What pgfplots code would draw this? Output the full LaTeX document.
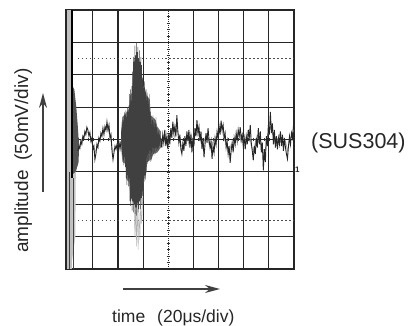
\documentclass[border=0pt]{standalone}
\usepackage{pgfplots}
\pgfplotsset{compat=1.18}
\usepackage{fontspec}
\setmainfont{Liberation Sans}
\usetikzlibrary{arrows.meta}

\begin{document}
\begin{tikzpicture}
\useasboundingbox (0,0) rectangle (419bp,326bp);
\begin{axis}[
  at={(66bp,57bp)}, anchor=south west,
  scale only axis, width=228bp, height=259bp,
  xmin=-4.07, xmax=5, ymin=-4, ymax=4,
  xtick={-3,-2,-1,1,2,3,4}, ytick={-3,-2,-1,0,1,2,3},
  xticklabels={}, yticklabels={}, major tick length=0pt,
  grid=major, major grid style={black!85, line width=1.1pt},
  axis line style={black!85, line width=1.1pt},
  clip=true,
]
% oscilloscope marker lines
\draw[black!70, line width=0.9pt, dash pattern=on 1.5pt off 2.5pt] (axis cs:-3.6,2.5) -- (axis cs:5,2.5);
\draw[black!70, line width=0.9pt, dash pattern=on 1.5pt off 2.5pt] (axis cs:-3.6,-2.5) -- (axis cs:5,-2.5);
\draw[black!85, line width=1pt, densely dotted] (axis cs:0,-4) -- (axis cs:0,4);
\pgfplotsinvokeforeach{-3.8,-3.6,...,3.9}{\draw[black!80, line width=0.6pt] (axis cs:-0.07,#1) -- (axis cs:0.07,#1);}
\pgfplotsinvokeforeach{-3.8,-3.6,...,4.9}{\draw[black!80, line width=0.6pt] (axis cs:#1,-0.06) -- (axis cs:#1,0.06);}

% left edge: start of trace
\addplot[fill=gray!50, draw=none] coordinates {(-4.02,-4)(-4.02,4)(-3.84,4)(-3.84,-4)};
\addplot[fill=black!68, draw=none] coordinates {(-3.84,1.7)(-3.74,1.55)(-3.66,1.0)(-3.6,0.4)(-3.55,-0.2)(-3.57,-0.7)(-3.68,-1.0)(-3.78,-1.15)(-3.84,-1.1)};
\addplot[fill=gray!45, draw=none] coordinates {(-3.84,-1.1)(-3.68,-1.0)(-3.7,-3.0)(-3.84,-3.8)};
\addplot[black, line width=1.8pt] coordinates {(-3.83,4)(-3.83,-1.2)};
\addplot[black!75, line width=0.7pt] coordinates {(-3.78,-1.2)(-3.78,-4)};
\addplot[black!75, line width=0.6pt] coordinates {(-3.93,-1.0)(-3.93,-4)};

% burst envelope
\addplot[fill=black!55, draw=none] coordinates {
(-1.88,0.25) (-1.82,0.7) (-1.7,0.8) (-1.56,0.95) (-1.52,1.35) (-1.44,1.45) (-1.4,2.2) (-1.34,2.5) (-1.28,2.6) (-1.22,2.45) (-1.14,2.4) (-1.06,2.1) (-1.0,1.65) (-0.92,1.55) (-0.86,1.35) (-0.74,1.25) (-0.7,0.75) (-0.5,0.6) (-0.44,0.4) (-0.3,0.25)
(-0.3,-0.25) (-0.44,-0.4) (-0.6,-0.45) (-0.66,-0.6) (-0.84,-0.7) (-0.88,-1.05) (-0.98,-1.15) (-1.0,-1.7) (-1.14,-1.9) (-1.24,-2.0) (-1.38,-1.95) (-1.5,-1.8) (-1.56,-1.3) (-1.66,-1.25) (-1.7,-0.75) (-1.82,-0.7) (-1.88,-0.25)};
% light grey excursions below the burst
\addplot[gray!60, line width=0.5pt] coordinates {(-1.36,-1.5)(-1.33,-3.0)(-1.30,-2.0)(-1.27,-3.3)(-1.24,-2.0)(-1.20,-3.4)(-1.17,-2.2)(-1.13,-3.1)(-1.10,-2.0)(-1.06,-2.6)(-1.02,-1.8)};

% grey secondary trace
\addplot[gray!60, line width=0.8pt] table {
-3.58 -0.25
-3.50 -0.10
-3.42 0.05
-3.34 0.15
-3.26 0.25
-3.18 0.20
-3.10 0.05
-3.02 -0.15
-2.94 -0.40
-2.86 -0.30
-2.78 -0.10
-2.70 0.05
-2.62 0.20
-2.54 0.30
-2.46 0.35
-2.38 0.25
-2.30 0.05
-2.22 -0.35
-2.14 -0.30
-2.06 -0.20
-1.98 -0.15
-1.90 -0.10
};
\addplot[gray!60, line width=0.8pt] table {
-0.30 -0.15
-0.22 0.10
-0.14 -0.05
-0.06 0.20
0.02 -0.10
0.10 0.15
0.18 0.30
0.26 0.05
0.34 0.35
0.42 0.10
0.50 -0.15
0.58 -0.30
0.66 -0.05
0.74 0.10
0.82 -0.15
0.90 0.20
0.98 -0.10
1.06 0.15
1.14 0.30
1.22 0.10
1.30 -0.10
1.38 -0.25
1.46 0.05
1.54 0.15
1.62 -0.15
1.70 -0.30
1.78 -0.05
1.86 -0.20
1.94 0.10
2.02 0.20
2.10 0.35
2.18 0.15
2.26 -0.05
2.34 -0.20
2.42 -0.40
2.50 -0.15
2.58 -0.25
2.66 0.05
2.74 0.15
2.82 0.20
2.90 -0.10
2.98 0.05
3.06 -0.10
3.14 0.15
3.22 0.20
3.30 -0.20
3.38 -0.35
3.46 -0.10
3.54 0.15
3.62 0.05
3.70 -0.25
3.78 -0.50
3.86 -0.35
3.94 0.10
4.02 0.30
4.10 0.45
4.18 0.10
4.26 -0.15
4.34 -0.05
4.42 0.15
4.50 -0.10
4.58 -0.20
4.66 -0.05
4.74 -0.35
4.82 -0.10
4.90 0.10
4.98 0.30
};

% main trace
\addplot[black!85, line width=0.9pt] table {
-3.60 -0.35
-3.56 -0.20
-3.52 -0.28
-3.48 -0.05
-3.44 -0.15
-3.40 0.10
-3.36 0.02
-3.32 0.25
-3.28 0.15
-3.24 0.38
-3.20 0.30
-3.16 0.12
-3.12 0.22
-3.08 -0.05
-3.04 0.05
-3.00 -0.30
-2.96 -0.20
-2.92 -0.62
-2.88 -0.45
-2.84 -0.15
-2.80 -0.25
-2.76 0.05
-2.72 -0.05
-2.68 0.20
-2.64 0.10
-2.60 0.35
-2.56 0.15
-2.52 0.40
-2.48 0.28
-2.44 0.55
-2.40 0.30
-2.36 0.45
-2.32 0.05
-2.28 0.15
-2.24 -0.35
-2.20 -0.62
-2.16 -0.40
-2.12 -0.20
-2.08 -0.30
-2.04 -0.15
-2.00 -0.25
-1.96 -0.10
-1.92 -0.30
-1.88 -0.05
};
\addplot[black!75, line width=0.35pt] table {
-1.87 0.25
-1.86 -0.20
-1.84 0.55
-1.83 -0.50
-1.81 0.70
-1.80 -0.65
-1.78 0.60
-1.77 -0.80
-1.75 0.85
-1.74 -0.55
-1.72 0.75
-1.71 -0.85
-1.69 0.90
-1.68 -1.20
-1.66 0.70
-1.65 -1.40
-1.63 1.00
-1.62 -1.10
-1.60 0.85
-1.59 -1.45
-1.57 1.05
-1.56 -1.20
-1.54 1.40
-1.53 -1.90
-1.51 1.55
-1.50 -2.05
-1.48 1.20
-1.47 -1.80
-1.45 1.65
-1.44 -2.20
-1.42 2.10
-1.41 -1.90
-1.39 2.55
-1.38 -2.25
-1.36 2.40
-1.35 -2.00
-1.33 2.90
-1.32 -2.30
-1.30 2.60
-1.29 -2.10
-1.27 3.00
-1.26 -2.35
-1.24 2.70
-1.23 -1.95
-1.21 2.85
-1.20 -2.25
-1.18 2.50
-1.17 -2.15
-1.15 2.75
-1.14 -1.90
-1.12 2.40
-1.11 -2.15
-1.09 2.55
-1.08 -1.80
-1.06 2.30
-1.05 -2.00
-1.03 1.90
-1.02 -1.60
-1.00 1.85
-0.99 -1.90
-0.97 1.60
-0.96 -1.30
-0.94 1.80
-0.93 -1.20
-0.91 1.50
-0.90 -1.25
-0.88 1.55
-0.87 -1.00
-0.85 1.30
-0.84 -0.75
-0.82 1.45
-0.81 -0.70
-0.79 1.20
-0.78 -0.65
-0.76 1.40
-0.75 -0.60
-0.73 1.00
-0.72 -0.70
-0.70 0.85
-0.69 -0.55
-0.67 0.70
-0.66 -0.65
-0.64 0.60
-0.63 -0.50
-0.61 0.75
-0.60 -0.45
-0.58 0.55
-0.57 -0.50
-0.55 0.65
-0.54 -0.40
-0.52 0.50
-0.51 -0.45
-0.49 0.70
-0.48 -0.35
-0.46 0.40
-0.45 -0.40
-0.43 0.35
-0.42 -0.30
-0.40 0.25
-0.39 -0.35
-0.37 0.30
-0.36 -0.20
-0.34 0.15
-0.33 -0.25
-0.31 0.10
};
\addplot[black!85, line width=0.9pt] table {
-0.30 0.05
-0.26 -0.25
-0.22 0.15
-0.18 -0.10
-0.14 0.30
-0.10 -0.20
-0.06 0.10
-0.02 -0.30
0.02 0.20
0.06 -0.15
0.10 0.35
0.14 0.05
0.18 0.55
0.22 0.20
0.26 0.40
0.30 0.10
0.34 0.75
0.38 0.25
0.42 -0.10
0.46 0.15
0.50 -0.30
0.54 -0.45
0.58 -0.10
0.62 -0.35
0.66 0.10
0.70 -0.20
0.74 0.25
0.78 -0.05
0.82 0.30
0.86 -0.25
0.90 0.15
0.94 -0.40
0.98 0.05
1.02 -0.20
1.06 0.35
1.10 0.10
1.14 0.60
1.18 0.20
1.22 0.40
1.26 -0.05
1.30 0.25
1.34 -0.30
1.38 0.05
1.42 -0.55
1.46 -0.15
1.50 0.20
1.54 -0.10
1.58 0.35
1.62 0.00
1.66 -0.25
1.70 -0.05
1.74 -0.60
1.78 -0.20
1.82 -0.40
1.86 0.05
1.90 -0.15
1.94 0.25
1.98 0.05
2.02 0.40
2.06 0.15
2.10 0.58
2.14 0.30
2.18 0.45
2.22 0.05
2.26 0.20
2.30 -0.25
2.34 -0.05
2.38 -0.45
2.42 -0.20
2.46 -0.72
2.50 -0.35
2.54 -0.10
2.58 -0.40
2.62 0.05
2.66 -0.15
2.70 0.20
2.74 -0.05
2.78 0.30
2.82 0.10
2.86 0.38
2.90 0.00
2.94 0.15
2.98 -0.20
3.02 0.05
3.06 -0.30
3.10 0.10
3.14 -0.15
3.18 0.30
3.22 0.05
3.26 0.45
3.30 -0.10
3.34 -0.35
3.38 -0.64
3.42 -0.20
3.46 -0.45
3.50 0.05
3.54 -0.25
3.58 0.35
3.62 -0.15
3.66 0.25
3.70 -0.40
3.74 -0.10
3.78 -0.95
3.82 -0.30
3.86 -0.70
3.90 0.10
3.94 -0.20
3.98 0.45
4.02 0.15
4.06 0.85
4.10 0.20
4.14 0.50
4.18 -0.15
4.22 0.30
4.26 -0.25
4.30 0.10
4.34 -0.30
4.38 0.05
4.42 -0.15
4.46 0.25
4.50 -0.20
4.54 0.15
4.58 -0.35
4.62 0.05
4.66 -0.25
4.70 -0.45
4.74 -0.60
4.78 -0.20
4.82 0.10
4.86 -0.15
4.90 0.20
4.94 0.05
4.98 0.45
5.00 0.55
};
\end{axis}

% labels and arrows
\node[rotate=90, anchor=base west, inner sep=0, text=black!85, font=\fontsize{19bp}{22bp}\selectfont] at (28bp,73bp) {amplitude\hspace{10bp}(50mV/div)};
\draw[black!75, line width=1.6bp, -{Stealth[length=15bp, width=8bp]}] (43bp,134bp) -- (43bp,233bp);
\node[anchor=base west, inner sep=0, text=black!85, font=\fontsize{17.5bp}{20bp}\selectfont] at (112bp,4bp) {time\hspace{12bp}(20μs/div)};
\draw[black!75, line width=1.6bp, -{Stealth[length=15bp, width=8bp]}] (123bp,37bp) -- (220bp,37bp);
\node[anchor=west, inner sep=0, text=black!85, font=\fontsize{21.5bp}{24bp}\selectfont] at (311bp,183bp) {(SUS304)};
\node[anchor=west, inner sep=0, text=black!85, font=\fontsize{8bp}{8bp}\selectfont\bfseries] at (295bp,156bp) {1};
\end{tikzpicture}
\end{document}
